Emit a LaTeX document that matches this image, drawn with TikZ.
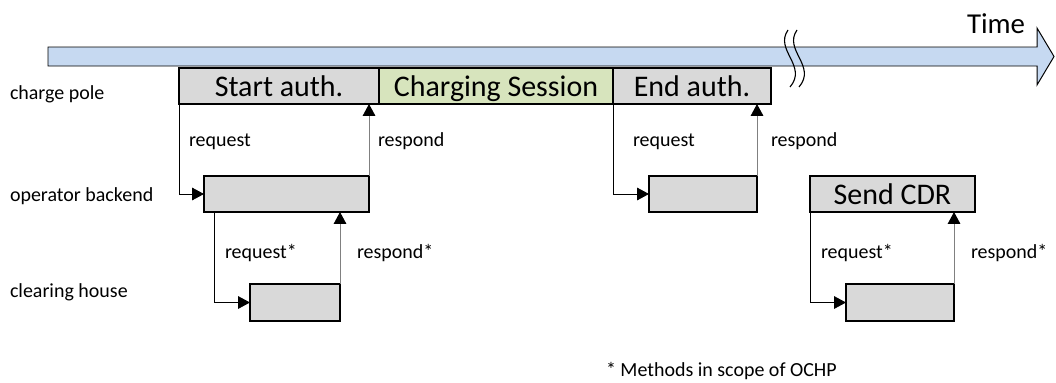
\documentclass[tikz,border=0pt]{standalone}
\usepackage{fontspec}
\setmainfont{Carlito}
\usetikzlibrary{arrows.meta,calc}
\definecolor{barblue}{HTML}{C6D9F1}
\definecolor{boxgray}{HTML}{D9D9D9}
\definecolor{sessgreen}{HTML}{D7E4BD}
\definecolor{respgray}{HTML}{808080}

\begin{document}
\begin{tikzpicture}[x=0.025cm,y=-0.025cm,inner sep=0pt,outer sep=0pt,
phase/.style={draw,rectangle,fill=boxgray,line width=1.1pt,minimum height=0.9cm,text height=19pt,text depth=3.4pt,font=\fontsize{21.3}{25}\selectfont},
lbl/.style={anchor=base west,font=\fontsize{14.2}{17}\selectfont},
req/.style={-{Triangle[length=8.5pt,width=9pt]},line width=0.6pt},
resp/.style={-{Triangle[length=8.5pt,width=9pt,color=black]},draw=respgray,line width=0.6pt}]

\useasboundingbox (0,0) rectangle (1056,382);

% time line
\draw[fill=barblue,line width=0.7pt] (48,47) -- (1037,47) -- (1037,28) -- (1054,56.5) -- (1037,85) -- (1037,66) -- (48,66) -- cycle;
\draw[line width=0.8pt] (788,30) .. controls (774,50) and (808,66) .. (790,87);
\draw[line width=0.8pt] (797,30) .. controls (783,50) and (817,66) .. (799,87);
\node[anchor=base west,font=\fontsize{20.5}{24}\selectfont] (time) at (967,33) {Time};

% rows
\node[lbl] (pole) at (10,99) {charge pole};
\node[lbl] (backend) at (10,201) {operator backend};
\node[lbl] (clearing) at (10,297) {clearing house};

% phases
\node[phase,minimum width=5cm] (start) at (279,86) {Start auth.};
\node[phase,fill=sessgreen,minimum width=5.85cm] (sess) at (496,86) {Charging Session};
\node[phase,minimum width=3.95cm] (endauth) at (692,86) {End auth.};
\node[phase,minimum width=4.125cm] (ob1) at (286.5,194) {};
\node[phase,minimum width=2.7cm] (ob2) at (703,194) {};
\node[phase,minimum width=4.125cm] (cdr) at (892.5,194) {Send CDR};
\node[phase,minimum width=2.25cm,minimum height=0.925cm] (ch1) at (295,302.5) {};
\node[phase,minimum width=2.7cm,minimum height=0.925cm] (ch2) at (900,302.5) {};

% calls
\draw[req] (start.south west) |- (ob1.west);
\draw[resp] (ob1.north east) -- (ob1.north east |- start.south);
\draw[req] ($(ob1.south west)+(10,0)$) |- (ch1.west);
\draw[resp] (ch1.north east) -- (ch1.north east |- ob1.south);
\draw[req] (endauth.south west) |- (ob2.west);
\draw[resp] (ob2.north east) -- (ob2.north east |- endauth.south);
\draw[req] (cdr.south west) |- (ch2.west);
\draw[resp] (ch2.north east) -- (ch2.north east |- cdr.south);

\node[lbl] (req1) at (189,146) {request};
\node[lbl] (resp1) at (378,146) {respond};
\node[lbl] (req2) at (225,258) {request*};
\node[lbl] (resp2) at (357,258) {respond*};
\node[lbl] (req3) at (633,146) {request};
\node[lbl] (resp3) at (771,146) {respond};
\node[lbl] (req4) at (821,258) {request*};
\node[lbl] (resp4) at (971,258) {respond*};

\node[lbl] (note) at (606,376) {* Methods in scope of OCHP};
\end{tikzpicture}
\end{document}
